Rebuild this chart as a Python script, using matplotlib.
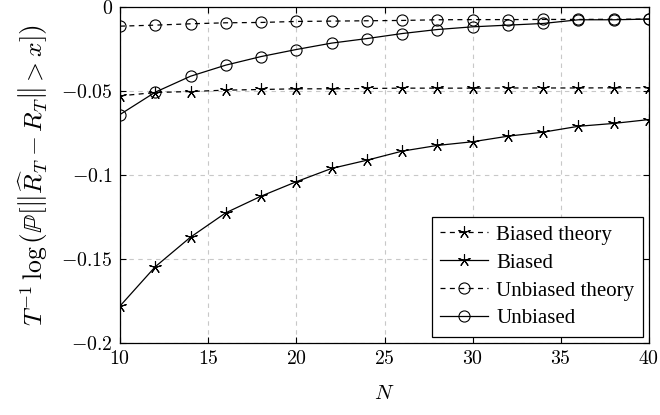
import numpy as np
import matplotlib.pyplot as plt
from matplotlib.ticker import FuncFormatter

plt.rcParams['mathtext.fontset'] = 'cm'
plt.rcParams['font.family'] = ['cmr10', 'DejaVu Serif']
plt.rcParams['axes.formatter.use_mathtext'] = True

N = [10, 12, 14, 16, 18, 20, 22, 24, 26, 28, 30, 32, 34, 36, 38, 40]
biased_theory = [-0.0529, -0.0509, -0.0503, -0.0495, -0.0491, -0.0487, -0.0487, -0.0485,
                 -0.0483, -0.0483, -0.0483, -0.0482, -0.0482, -0.0482, -0.0481, -0.0481]
biased = [-0.178, -0.1546, -0.137, -0.1225, -0.1126, -0.104, -0.0961, -0.0912,
          -0.0858, -0.0824, -0.0802, -0.0769, -0.0745, -0.0710, -0.0693, -0.067]
unbiased_theory = [-0.0114, -0.0108, -0.0100, -0.0094, -0.0092, -0.0086, -0.0084, -0.0082,
                   -0.0080, -0.0076, -0.0075, -0.0075, -0.0074, -0.0074, -0.0073, -0.0072]
unbiased = [-0.064, -0.0507, -0.0412, -0.0346, -0.0295, -0.0253, -0.0215, -0.0188,
            -0.0158, -0.0134, -0.0118, -0.0108, -0.0098, -0.0076, -0.0076, -0.0072]

fig = plt.figure(figsize=(6.6, 4.15), dpi=100)
ax = fig.add_axes([120 / 660, 1 - 343 / 415, 529 / 660, 336 / 415])

star = (5, 2, 0)
dash = (0, (4, 3.5))
common = dict(color='black', lw=0.9, mfc='none', mec='black', mew=0.8)
ax.plot(N, biased_theory, linestyle=dash, marker=star, markersize=9, label='Biased theory', **common)
ax.plot(N, biased, linestyle='-', marker=star, markersize=9, label='Biased', **common)
ax.plot(N, unbiased_theory, linestyle=dash, marker='o', markersize=8, label='Unbiased theory', **common)
ax.plot(N, unbiased, linestyle='-', marker='o', markersize=8, label='Unbiased', **common)

ax.set_xlim(10, 40)
ax.set_ylim(-0.2, 0)
ax.set_xticks([10, 15, 20, 25, 30, 35, 40])
ax.set_yticks([-0.2, -0.15, -0.1, -0.05, 0])


def fmt(v, pos):
    return '$%g$' % v


ax.xaxis.set_major_formatter(FuncFormatter(fmt))
ax.yaxis.set_major_formatter(FuncFormatter(fmt))
ax.tick_params(direction='in', top=True, right=True, length=4, width=0.8, labelsize=14.3, pad=5)
ax.grid(True, color='#c8c8c8', linestyle=(0, (4, 4)), lw=0.8)
ax.set_axisbelow(True)
for sp in ax.spines.values():
    sp.set_linewidth(0.9)

ax.set_xlabel('$N$', fontsize=15, labelpad=12)
ax.set_ylabel(r'$T^{-1}\,\log\left(\mathbb{P}\left[\left\|\widehat{R}_T - R_T\right\| > x\right]\right)$',
              fontsize=18.5, labelpad=8)

leg = ax.legend(loc='lower right', prop={'family': 'Liberation Serif', 'size': 15},
                frameon=True, fancybox=False, edgecolor='black', framealpha=1,
                handlelength=2.3, handletextpad=0.4, borderpad=0.4, labelspacing=0.4,
                borderaxespad=0.3)
leg.get_frame().set_linewidth(0.9)

fig.savefig('out.png', dpi=100)
